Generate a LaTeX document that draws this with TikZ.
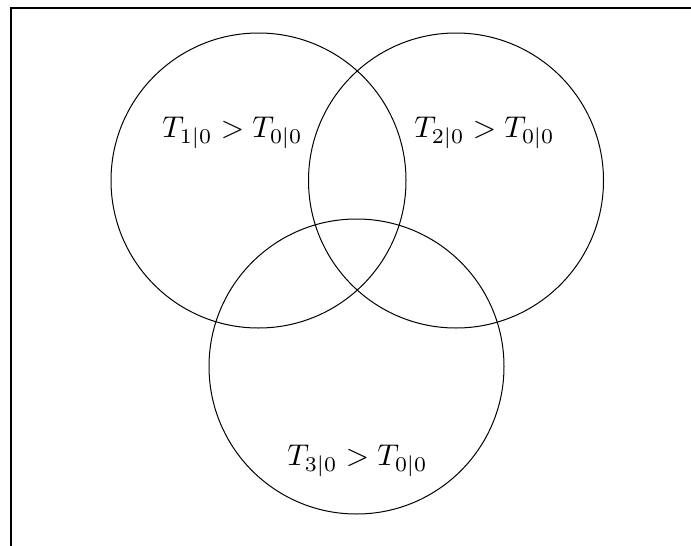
\documentclass[tikz,border=0pt]{standalone}
\begin{document}
\begin{tikzpicture}[x=1pt,y=-1pt,
  venn/.style={circle,draw,line width=1pt,minimum size=295pt,inner sep=0pt},
  lbl/.style={inner sep=0pt,scale=3.0}]
\useasboundingbox (0,0) rectangle (691,546);
\draw[line width=1.6pt] (11,546) -- (11,8) -- (691,8);
\node[venn] (c1) at (258.5,180.5) {};
\node[venn] (c2) at (456,180.5) {};
\node[venn] (c3) at (356.5,366.5) {};
\node[lbl] (t1) at (232.5,133) {$T_{1|0} > T_{0|0}$};
\node[lbl] (t2) at (484.5,133) {$T_{2|0} > T_{0|0}$};
\node[lbl] (t3) at (357.5,461) {$T_{3|0} > T_{0|0}$};
\end{tikzpicture}
\end{document}
